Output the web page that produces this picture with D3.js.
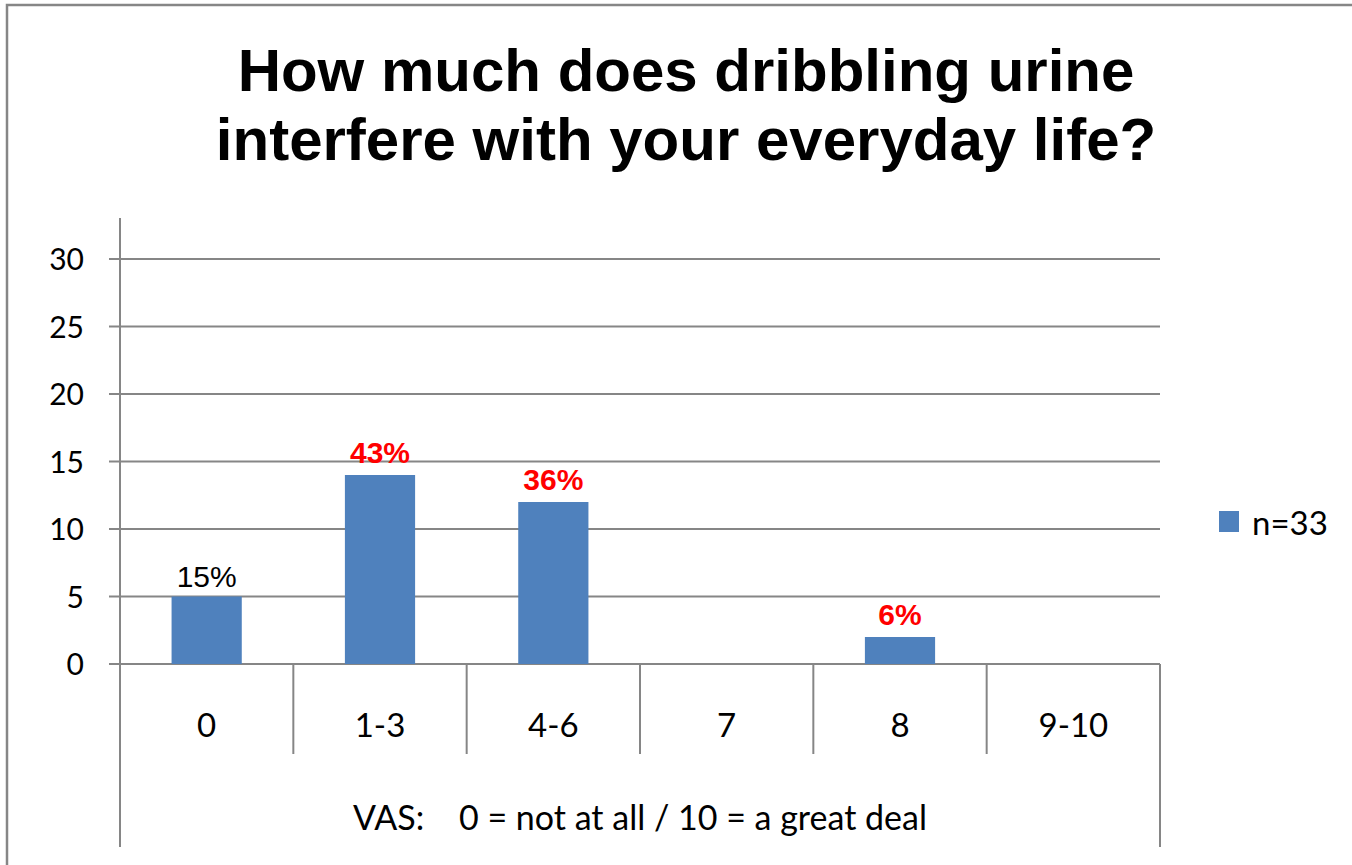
<!DOCTYPE html>
<html><head><meta charset="utf-8">
<script src="https://cdn.jsdelivr.net/npm/d3@7"></script>
<style>
html,body{margin:0;padding:0;background:#fff;}
svg{display:block;}
</style></head>
<body>
<script>
// ---- data ----
const categories = ["0", "1-3", "4-6", "7", "8", "9-10"];
const counts = [5, 14, 12, 0, 2, 0];
const percentLabels = ["15%", "43%", "36%", "", "6%", ""];
const labelEmphasis = [false, true, true, false, true, false];
const yTicks = [0, 5, 10, 15, 20, 25, 30];
const titleLines = ["How much does dribbling urine", "interfere with your everyday life?"];
const axisTitle = "VAS:\u00a0\u00a0\u00a0 0 = not at all / 10 = a great deal";
const seriesName = "n=33";

// ---- layout ----
const W = 1352, H = 865;
const left = 120, right = 1160, base = 664, top30 = 259, plotTop = 218;
const catTickBottom = 754, boxBottom = 847;
const gridColor = "#868686";
const barColor = "#4F81BD";
const sans = "Lato, 'Open Sans', sans-serif";
const arial = "'Liberation Sans', Arial, sans-serif";

const svg = d3.select("body").append("svg").attr("width", W).attr("height", H);

// outer border
svg.append("rect").attr("x", 7).attr("y", 5).attr("width", W + 20).attr("height", H + 20)
  .attr("fill", "none").attr("stroke", gridColor).attr("stroke-width", 2.5);

const x = d3.scaleBand().domain(categories).range([left, right]).paddingInner(0.595).paddingOuter(0.2975);
const y = d3.scaleLinear().domain([0, 30]).range([base, top30]);

// gridlines
svg.append("g").selectAll("line").data(yTicks).join("line")
  .attr("x1", left - 11).attr("x2", right)
  .attr("y1", d => y(d)).attr("y2", d => y(d))
  .attr("stroke", gridColor).attr("stroke-width", 2);

// y axis line + right edge of category box
svg.append("line").attr("x1", left).attr("x2", left).attr("y1", plotTop).attr("y2", boxBottom)
  .attr("stroke", gridColor).attr("stroke-width", 2);
svg.append("line").attr("x1", right).attr("x2", right).attr("y1", base).attr("y2", boxBottom)
  .attr("stroke", gridColor).attr("stroke-width", 2);

// y axis labels
const yAxis = svg.append("g").attr("transform", `translate(${left},0)`)
  .call(d3.axisLeft(y).tickValues(yTicks).tickSize(0).tickPadding(36));
yAxis.select(".domain").remove();
yAxis.selectAll("text").attr("font-family", sans).attr("font-size", 30).attr("fill", "#000").attr("dy", "0.36em");

// category separators
const step = x.step();
svg.append("g").selectAll("line").data(categories.slice(1)).join("line")
  .attr("x1", c => x(c) - (step - x.bandwidth()) / 2)
  .attr("x2", c => x(c) - (step - x.bandwidth()) / 2)
  .attr("y1", base).attr("y2", catTickBottom)
  .attr("stroke", gridColor).attr("stroke-width", 2);

// x axis labels
const xAxis = svg.append("g").attr("transform", `translate(0,${base})`)
  .call(d3.axisBottom(x).tickSize(0).tickPadding(0));
xAxis.select(".domain").remove();
xAxis.selectAll("text").attr("font-family", sans).attr("font-size", 33).attr("fill", "#000")
  .attr("dy", null).attr("y", 73);

// bars
svg.append("g").selectAll("rect").data(categories).join("rect")
  .attr("x", c => x(c)).attr("width", x.bandwidth())
  .attr("y", (c, i) => y(counts[i])).attr("height", (c, i) => base - y(counts[i]))
  .attr("fill", barColor);

// data labels
svg.append("g").selectAll("text").data(categories).join("text")
  .attr("x", c => x(c) + x.bandwidth() / 2)
  .attr("y", (c, i) => y(counts[i]) - (labelEmphasis[i] ? 12 : 10))
  .attr("text-anchor", "middle")
  .attr("font-family", arial).attr("font-size", 30)
  .attr("font-weight", (c, i) => labelEmphasis[i] ? "bold" : "normal")
  .attr("fill", (c, i) => labelEmphasis[i] ? "#FF0000" : "#000")
  .text((c, i) => percentLabels[i]);

// axis title
svg.append("text").attr("x", (left + right) / 2).attr("y", 830).attr("text-anchor", "middle")
  .attr("font-family", sans).attr("font-size", 34).attr("fill", "#000").text(axisTitle);

// chart title
svg.append("g").selectAll("text").data(titleLines).join("text")
  .attr("x", 686).attr("y", (d, i) => 91 + i * 69).attr("text-anchor", "middle")
  .attr("font-family", arial).attr("font-weight", "bold").attr("font-size", 60).attr("fill", "#000")
  .text(d => d);

// legend
const lg = svg.append("g").attr("transform", "translate(1219,511)");
lg.append("rect").attr("width", 20).attr("height", 21).attr("fill", barColor);
lg.append("text").attr("x", 33).attr("y", 24).attr("font-family", sans).attr("font-size", 33)
  .attr("fill", "#000").text(seriesName);
</script>
</body></html>
